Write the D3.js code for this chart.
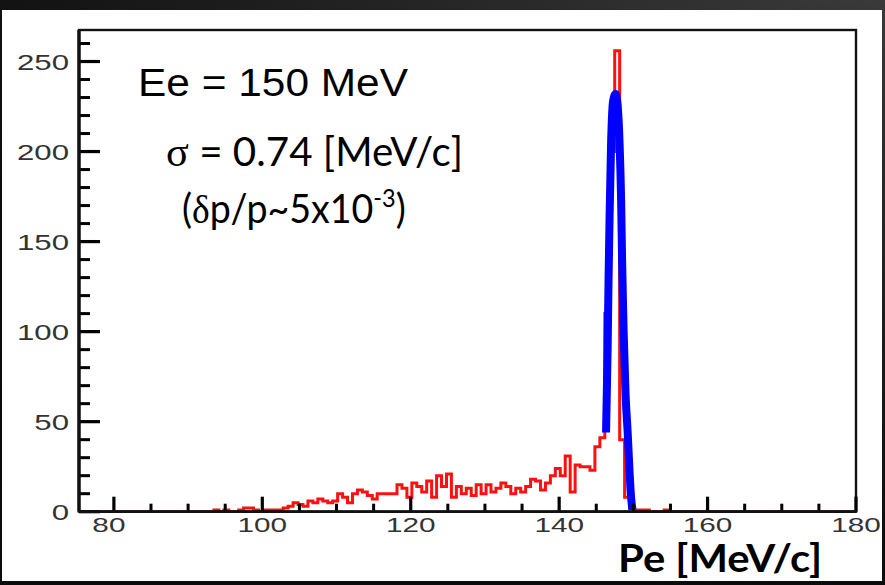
<!DOCTYPE html>
<html>
<head>
<meta charset="utf-8">
<script src="https://cdn.jsdelivr.net/npm/d3@7"></script>
<style>
  html, body { margin: 0; padding: 0; background: #111; }
  svg { display: block; }
</style>
</head>
<body>
<svg id="chart" width="885" height="585"></svg>
<script>
// ---------------- data ----------------
const xDomain = [75.3, 180];
const yDomain = [0, 267.5];
const xMajorTicks = [80, 100, 120, 140, 160, 180];
const yMajorTicks = [0, 50, 100, 150, 200, 250];
const xMinorTicks = [85, 90, 95, 105, 110, 115, 125, 130, 135, 145, 150, 155, 165, 170, 175];
const yMinorTicks = [10, 20, 30, 40, 60, 70, 80, 90, 110, 120, 130, 140, 160, 170, 180, 190, 210, 220, 230, 240, 260];

// histogram (red): bins of 2/3 MeV
const binStart = 93.483;
const binWidth = 0.6667;
const counts = [
  1, 0, 1, 0, 0, 1, 2, 2, 1, 0,
  1, 1, 1, 1, 2, 3, 5, 4, 3, 6,
  5, 7, 6, 5, 6, 10, 8, 5, 10, 12,
  11, 9, 7, 10, 10, 10, 10, 15, 13, 8,
  16, 14, 11, 17, 8, 20, 14, 21, 8, 14,
  10, 13, 9, 15, 10, 15, 11, 13, 16, 14,
  10, 13, 11, 14, 18, 17, 12, 16, 20, 24,
  20, 31, 11, 26, 25, 25, 23, 36, 41, 110,
  200, 256, 40, 8, 2, 1, 1, 1, 0, 0,
  0, 1, 0
];

// gaussian fit curve (blue)
const fitX = [146.32, 146.53, 146.66, 146.80, 147.00, 147.27, 147.60, 147.87, 148.14,
              148.35, 148.48, 148.68, 148.95, 149.22, 149.49, 149.69, 149.89];
const fitY = [44, 90, 130, 165, 205, 228, 232, 226, 205,
              173, 140, 101, 65, 45, 22, 8, 1];

const annotation1 = "Ee = 150 MeV";
const annotation2 = "= 0.74 [MeV/c]";
const xTitle = "Pe [MeV/c]";

// ---------------- drawing ----------------
const svg = d3.select("#chart");
const W = 885, H = 585;

const defs = svg.append("defs");
const bg = defs.append("linearGradient").attr("id", "bg")
  .attr("x1", "0").attr("y1", "0").attr("x2", "1").attr("y2", "0");
bg.append("stop").attr("offset", "0").attr("stop-color", "#121212");
bg.append("stop").attr("offset", "0.5").attr("stop-color", "#262626");
bg.append("stop").attr("offset", "1").attr("stop-color", "#3a3a3a");
svg.append("rect").attr("width", W).attr("height", H).attr("fill", "url(#bg)");
const bg2 = defs.append("linearGradient").attr("id", "bg2")
  .attr("x1", "0").attr("y1", "0").attr("x2", "0").attr("y2", "1");
bg2.append("stop").attr("offset", "0").attr("stop-color", "#000").attr("stop-opacity", 0);
bg2.append("stop").attr("offset", "1").attr("stop-color", "#0c0c0c").attr("stop-opacity", 1);
svg.append("rect").attr("width", W).attr("height", H).attr("fill", "url(#bg2)");

// white panel
svg.append("rect").attr("x", 2).attr("y", 10).attr("width", 880).attr("height", 571).attr("fill", "#ffffff");

const plot = { left: 79, right: 856, top: 30, bottom: 511.7 };
const x = d3.scaleLinear().domain(xDomain).range([plot.left, plot.right]);
const y = d3.scaleLinear().domain(yDomain).range([plot.bottom, plot.top]);

defs.append("clipPath").attr("id", "clip").append("rect")
  .attr("x", plot.left).attr("y", plot.top - 5)
  .attr("width", plot.right - plot.left).attr("height", plot.bottom - plot.top + 6);

// histogram as a step line across the full range
const pts = [];
pts.push([xDomain[0], 0]);
counts.forEach((c, i) => pts.push([binStart + i * binWidth, c]));
pts.push([binStart + counts.length * binWidth, 0]);
pts.push([xDomain[1], 0]);
const stepLine = d3.line().x(d => x(d[0])).y(d => y(d[1])).curve(d3.curveStepAfter);

const g = svg.append("g").attr("clip-path", "url(#clip)");
g.append("path").attr("d", stepLine(pts))
  .attr("fill", "none").attr("stroke", "#ff1010").attr("stroke-width", 3)
  .attr("stroke-linejoin", "miter");

// fit curve
const fitLine = d3.line().x(d => x(d[0])).y(d => y(d[1])).curve(d3.curveMonotoneX);
g.append("path").attr("d", fitLine(fitX.map((v, i) => [v, fitY[i]])))
  .attr("fill", "none").attr("stroke", "#0000ff").attr("stroke-width", 8)
  .attr("stroke-linejoin", "round").attr("stroke-linecap", "butt");

// frame
svg.append("rect").attr("x", plot.left).attr("y", plot.top)
  .attr("width", plot.right - plot.left).attr("height", plot.bottom - plot.top)
  .attr("fill", "none").attr("stroke", "#111").attr("stroke-width", 2.4);

// ticks drawn from the scales, as filled rectangles
const tickG = svg.append("g").attr("class", "ticks");
yMajorTicks.forEach(v => tickG.append("rect").attr("x", plot.left).attr("y", y(v) - 1.6)
  .attr("width", 21).attr("height", 3.2).attr("fill", "#000"));
yMinorTicks.forEach(v => tickG.append("rect").attr("x", plot.left).attr("y", y(v) - 1.5)
  .attr("width", 11).attr("height", 3).attr("fill", "#000"));
xMajorTicks.forEach(v => tickG.append("rect").attr("x", x(v) - 1.6).attr("y", plot.bottom - 15)
  .attr("width", 3.2).attr("height", 15).attr("fill", "#000"));
xMinorTicks.forEach(v => tickG.append("rect").attr("x", x(v) - 1.5).attr("y", plot.bottom - 8)
  .attr("width", 3).attr("height", 8).attr("fill", "#000"));

// thick axis lines
svg.append("line").attr("x1", plot.left).attr("x2", plot.right)
  .attr("y1", plot.bottom).attr("y2", plot.bottom).attr("stroke", "#111").attr("stroke-width", 2.8);
svg.append("line").attr("x1", plot.left).attr("x2", plot.left)
  .attr("y1", plot.top).attr("y2", plot.bottom).attr("stroke", "#111").attr("stroke-width", 3.4);

// tick labels (stretched horizontally like the original)
const labelFont = "'Liberation Sans', Arial, sans-serif";
yMajorTicks.forEach(v => {
  svg.append("text")
    .attr("transform", `translate(69,${y(v) + 8}) scale(1.45,1)`)
    .attr("text-anchor", "end")
    .attr("font-family", labelFont).attr("font-size", 21.5)
    .attr("fill", "#333").text(v);
});
xMajorTicks.forEach(v => {
  svg.append("text")
    .attr("transform", `translate(${x(v) - (v === 80 ? 5 : 0)},531.5) scale(1.45,1)`)
    .attr("text-anchor", "middle")
    .attr("font-family", labelFont).attr("font-size", 20.5)
    .attr("fill", "#333").text(v);
});

// annotations
svg.append("text").attr("x", 138).attr("y", 95.7)
  .attr("font-family", labelFont).attr("font-size", 38).attr("fill", "#000")
  .attr("textLength", 270).attr("lengthAdjust", "spacingAndGlyphs")
  .text(annotation1);

const t2 = svg.append("text").attr("x", 166).attr("y", 165.7)
  .attr("font-family", "Lato, 'Open Sans', sans-serif").attr("font-size", 40).attr("fill", "#000")
  .attr("textLength", 297).attr("lengthAdjust", "spacingAndGlyphs");
t2.append("tspan").attr("font-family", "'Liberation Serif', serif").attr("font-size", 42).text("σ");
t2.append("tspan").text(" " + annotation2);

const t3 = svg.append("text").attr("transform", "translate(182,222.7) scale(0.94,1)")
  .attr("font-family", "Lato, 'Open Sans', sans-serif").attr("font-size", 40).attr("fill", "#000");
t3.append("tspan").text("(");
t3.append("tspan").attr("font-family", "'Liberation Serif', serif").attr("font-size", 40).text("δ");
t3.append("tspan").text("p/p~5x10");
t3.append("tspan").attr("font-size", 25).attr("dy", -16).text("-3");
t3.append("tspan").attr("dy", 16).text(")");

svg.append("text").attr("x", 618).attr("y", 572.3)
  .attr("font-family", "Lato, 'Open Sans', sans-serif").attr("font-weight", "bold")
  .attr("font-size", 39).attr("fill", "#000")
  .attr("textLength", 204).attr("lengthAdjust", "spacingAndGlyphs")
  .text(xTitle);
</script>
</body>
</html>
